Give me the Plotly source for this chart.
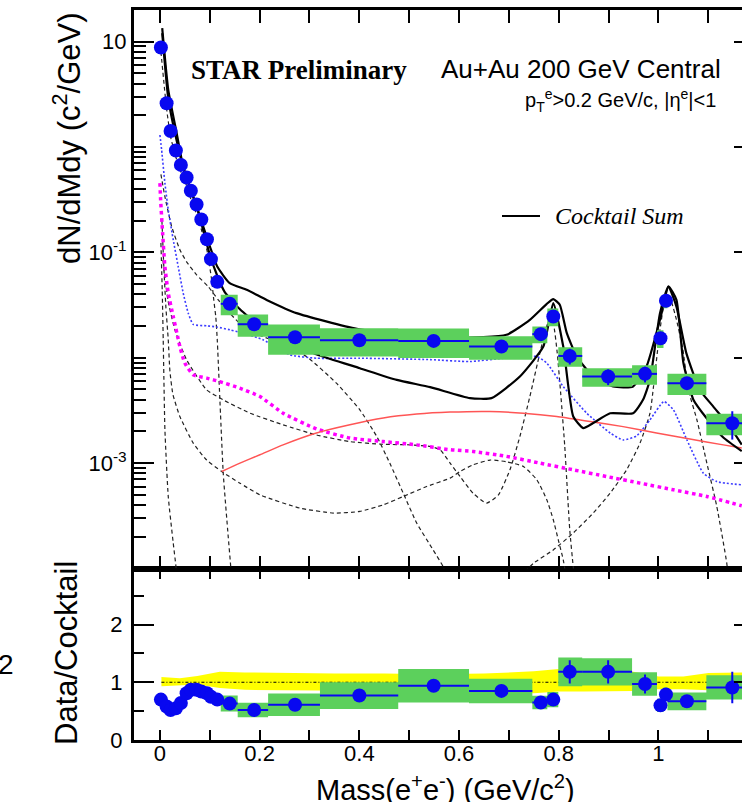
import plotly.graph_objects as go

# ---------------- data ----------------
mass = [0.002, 0.0134, 0.0214, 0.032, 0.042, 0.0535, 0.062, 0.0735, 0.083, 0.0943, 0.1023, 0.115,
        0.140, 0.189, 0.271, 0.400, 0.549, 0.685, 0.764, 0.789, 0.822, 0.899, 0.973, 1.004, 1.015, 1.057, 1.148]
dndm = [8.8, 2.6, 1.42, 0.925, 0.676, 0.513, 0.384, 0.285, 0.205, 0.133, 0.0863, 0.0525,
        0.0325, 0.0208, 0.01567, 0.01466, 0.01445, 0.01277, 0.01675, 0.0246, 0.0104, 0.00663, 0.00703,
        0.0153, 0.0347, 0.00574, 0.00239]
bin_lo = [0.0, 0.0084, 0.0164, 0.027, 0.037, 0.0485, 0.057, 0.0685, 0.078, 0.0893, 0.0973, 0.110,
          0.122, 0.156, 0.217, 0.321, 0.478, 0.620, 0.747, 0.777, 0.799, 0.847, 0.947, 0.997, 1.010, 1.018, 1.096]
bin_hi = [0.006, 0.0184, 0.0264, 0.037, 0.047, 0.0585, 0.067, 0.0785, 0.088, 0.0993, 0.1073, 0.120,
          0.156, 0.217, 0.321, 0.478, 0.620, 0.747, 0.777, 0.799, 0.847, 0.947, 0.997, 1.010, 1.018, 1.096, 1.200]
sys_frac = [0.12, 0.12, 0.12, 0.12, 0.12, 0.12, 0.12, 0.12, 0.12, 0.12, 0.12, 0.12,
            0.22, 0.24, 0.32, 0.30, 0.31, 0.25, 0.18, 0.19, 0.21, 0.20, 0.21, 0.19, 0.15, 0.23, 0.23]
stat_frac = [0.01, 0.02, 0.02, 0.02, 0.02, 0.02, 0.02, 0.03, 0.03, 0.03, 0.03, 0.04,
             0.05, 0.05, 0.05, 0.06, 0.07, 0.07, 0.06, 0.05, 0.17, 0.17, 0.17, 0.12, 0.06, 0.13, 0.30]
ratio = [0.70, 0.58, 0.52, 0.55, 0.64, 0.81, 0.87, 0.87, 0.84, 0.81, 0.75, 0.70,
         0.63, 0.52, 0.61, 0.77, 0.94, 0.85, 0.65, 0.70, 1.18, 1.18, 0.97, 0.60, 0.79, 0.67, 0.91]

# cocktail sum (two edges of the band)
ck_hi_m = [0.0046, 0.0167, 0.0335, 0.0467, 0.0736, 0.1003, 0.115, 0.140, 0.174, 0.214, 0.274, 0.395, 0.50,
           0.60, 0.695, 0.742, 0.776, 0.789, 0.802, 0.816, 0.836, 0.869, 0.909, 0.949, 0.976, 1.003, 1.020,
           1.036, 1.056, 1.083, 1.110, 1.143, 1.167]
ck_hi_v = [13.4, 3.48, 1.36, 0.652, 0.272, 0.1135, 0.0733, 0.0510, 0.0441, 0.0354, 0.0265, 0.0188, 0.0162,
           0.0154, 0.0165, 0.0229, 0.0325, 0.0360, 0.0318, 0.0172, 0.01026, 0.00663, 0.00533, 0.00533, 0.00826,
           0.0229, 0.0471, 0.0306, 0.0110, 0.00495, 0.00344, 0.00222, 0.00150]
ck_lo_m = [0.0046, 0.0167, 0.0335, 0.05, 0.075, 0.1, 0.115, 0.13, 0.16, 0.20, 0.25, 0.3176, 0.401, 0.475,
           0.542, 0.622, 0.665, 0.722, 0.769, 0.789, 0.809, 0.829, 0.849, 0.869, 0.903, 0.949, 0.969, 0.983,
           1.003, 1.020, 1.036, 1.050, 1.070, 1.097, 1.130, 1.167]
ck_lo_v = [12.0, 2.9, 1.15, 0.56, 0.26, 0.095, 0.06, 0.042, 0.029, 0.020, 0.0145, 0.01063, 0.00796, 0.00616,
           0.00526, 0.00414, 0.00414, 0.00664, 0.01277, 0.033, 0.01277, 0.00277, 0.00215, 0.0024, 0.00297,
           0.00297, 0.00399, 0.00618, 0.0265, 0.0475, 0.0354, 0.0089, 0.0040, 0.00265, 0.00175, 0.00130]

# cocktail components
pi0_m = [0.002, 0.0134, 0.0214, 0.032, 0.042, 0.0535, 0.062, 0.0735, 0.083, 0.0943, 0.1037, 0.108, 0.112,
         0.115, 0.120, 0.127, 0.137, 0.142, 0.145]
pi0_v = [8.0, 2.3, 1.25, 0.80, 0.58, 0.43, 0.32, 0.23, 0.165, 0.105, 0.055, 0.0354, 0.0246, 0.0148, 0.00428,
         0.0008, 0.0002, 0.000104, 0.00006]
eta_m = [0.002, 0.010, 0.0235, 0.040, 0.0535, 0.0736, 0.097, 0.117, 0.140, 0.174, 0.241, 0.294, 0.354, 0.401,
         0.435, 0.461, 0.488, 0.515, 0.548, 0.568, 0.575]
eta_v = [0.55, 0.338, 0.176, 0.106, 0.0813, 0.0612, 0.0473, 0.0354, 0.0265, 0.0184, 0.01377, 0.01026, 0.00574,
         0.0032, 0.00179, 0.0010, 0.000519, 0.00027, 0.00015, 0.000104, 0.00008]
c1_m = [0.002, 0.0046, 0.0066, 0.008, 0.010, 0.0167, 0.0267, 0.032, 0.035]
c1_v = [0.123, 0.044, 0.0148, 0.00617, 0.00207, 0.000482, 0.000174, 0.000106, 0.00007]
c2_m = [0.004, 0.008, 0.012, 0.0167, 0.020, 0.026, 0.040, 0.0668, 0.0937, 0.124, 0.1605, 0.2006, 0.281, 0.348,
        0.401, 0.448, 0.488, 0.535, 0.582, 0.602, 0.628, 0.662, 0.695, 0.729, 0.756, 0.776, 0.789, 0.799,
        0.809, 0.815]
c2_v = [0.2, 0.07, 0.03, 0.0148, 0.0075, 0.0045, 0.00277, 0.00155, 0.00107, 0.000832, 0.000645, 0.0005,
        0.000374, 0.000336, 0.000348, 0.000402, 0.000482, 0.0006, 0.000721, 0.000832, 0.000963, 0.00107,
        0.00103, 0.00093, 0.000695, 0.000449, 0.00029, 0.000187, 0.000121, 0.00008]
omega_m = [0.006, 0.016, 0.030, 0.0535, 0.0937, 0.127, 0.1805, 0.247, 0.314, 0.381, 0.448, 0.5015, 0.542,
           0.562, 0.582, 0.602, 0.628, 0.655, 0.679, 0.702, 0.722, 0.742, 0.762, 0.776, 0.783, 0.790, 0.797,
           0.804, 0.812, 0.822, 0.829, 0.832]
omega_v = [0.085, 0.0354, 0.0184, 0.00955, 0.00496, 0.00398, 0.00298, 0.00231, 0.00185, 0.0016, 0.00151,
           0.00149, 0.00144, 0.00134, 0.0010, 0.000746, 0.000519, 0.000417, 0.0005, 0.000863, 0.00179, 0.00428,
           0.01106, 0.0200, 0.0235, 0.0200, 0.0110, 0.0045, 0.00144, 0.000233, 0.000104, 0.00008]
phi_m = [0.732, 0.749, 0.789, 0.829, 0.869, 0.903, 0.936, 0.963, 0.983, 0.990, 1.003, 1.012, 1.019, 1.026,
         1.036, 1.049, 1.060, 1.077, 1.097, 1.117, 1.137, 1.140]
phi_v = [0.0000933, 0.000112, 0.000150, 0.000217, 0.000336, 0.000519, 0.000863, 0.00155, 0.00298, 0.00533,
         0.0184, 0.034, 0.040, 0.034, 0.0230, 0.0119, 0.00496, 0.00258, 0.0010, 0.000387, 0.000112, 0.00008]
blue_m = [0.0, 0.0034, 0.010, 0.0167, 0.0267, 0.0367, 0.0467, 0.0568, 0.0668, 0.0937, 0.1137, 0.1404, 0.167,
          0.207, 0.261, 0.314, 0.401, 0.542, 0.622, 0.689, 0.756, 0.776, 0.809, 0.856, 0.903, 0.929, 0.956,
          0.983, 1.011, 1.030, 1.057, 1.090, 1.117, 1.167]
blue_v = [1.30, 0.939, 0.454, 0.253, 0.1315, 0.0733, 0.0410, 0.0265, 0.0207, 0.0201, 0.0196, 0.0184, 0.0171,
          0.0148, 0.01065, 0.0099, 0.0099, 0.0096, 0.0092, 0.0099, 0.01026, 0.0089, 0.00533, 0.00298, 0.00193,
          0.00166, 0.00181, 0.00258, 0.00384, 0.0032, 0.00166, 0.000803, 0.000668, 0.000622]
mag_m = [0.0, 0.0014, 0.0054, 0.010, 0.0167, 0.0267, 0.034, 0.040, 0.050, 0.0668, 0.0937, 0.120, 0.160, 0.2006,
         0.247, 0.314, 0.381, 0.448, 0.515, 0.582, 0.628, 0.695, 0.762, 0.829, 0.896, 0.963, 1.030, 1.097, 1.167]
mag_v = [0.454, 0.315, 0.152, 0.0733, 0.0410, 0.0246, 0.0172, 0.01276, 0.0089, 0.00689, 0.0064, 0.00594,
         0.00515, 0.00429, 0.00298, 0.00211, 0.00173, 0.0016, 0.00149, 0.00134, 0.00129, 0.00116, 0.0010,
         0.000864, 0.000746, 0.000646, 0.000558, 0.000483, 0.000394]
ccbar_m = [0.1238, 0.1605, 0.2006, 0.247, 0.314, 0.381, 0.448, 0.515, 0.582, 0.662, 0.729, 0.796, 0.863,
           0.929, 0.996, 1.063, 1.130, 1.167]
ccbar_v = [0.000832, 0.0010, 0.0012, 0.00149, 0.00193, 0.00231, 0.00268, 0.00292, 0.00305, 0.00309, 0.00298,
           0.00277, 0.00248, 0.00222, 0.00193, 0.00169, 0.00149, 0.00139]

# cocktail uncertainty band in the ratio panel
band_m = [0.003, 0.04, 0.075, 0.12, 0.17, 0.25, 0.35, 0.45, 0.55, 0.65, 0.75, 0.80, 0.85, 0.95, 1.0, 1.05,
          1.1, 1.17]
band_hi = [1.09, 1.07, 1.11, 1.18, 1.17, 1.16, 1.15, 1.15, 1.14, 1.15, 1.19, 1.23, 1.22, 1.18, 1.10, 1.10,
           1.16, 1.17]
band_lo = [0.93, 0.94, 0.96, 0.90, 0.87, 0.86, 0.85, 0.85, 0.85, 0.84, 0.81, 0.84, 0.84, 0.85, 0.88, 0.88,
           0.86, 0.85]
unity = [1.0 for _ in band_m]

# ---------------- style ----------------
GREEN = 'rgb(92,208,92)'
BLUE = 'rgb(8,8,240)'
FONT = 'Liberation Sans, Arial, Helvetica, sans-serif'
SERIF = 'Liberation Serif, Times New Roman, serif'

fig = go.Figure()


def curve(xs, ys, color, width, dash, xa='x2', ya='y2', shape='spline'):
    fig.add_trace(go.Scatter(x=xs, y=ys, mode='lines', xaxis=xa, yaxis=ya,
                             line=dict(color=color, width=width, dash=dash, shape=shape, smoothing=0.5),
                             hoverinfo='skip', showlegend=False))


DASH = '4px,3px'
curve(c1_m, c1_v, '#222222', 1.2, DASH)
curve(c2_m, c2_v, '#222222', 1.2, DASH)
curve(pi0_m, pi0_v, '#222222', 1.2, DASH)
curve(eta_m, eta_v, '#222222', 1.2, DASH)
curve(omega_m, omega_v, '#222222', 1.2, DASH)
curve(phi_m, phi_v, '#222222', 1.2, DASH)
curve(mag_m, mag_v, '#ff00ff', 3.5, 'dot')
curve(blue_m, blue_v, 'rgb(60,60,255)', 1.6, '2px,2px')
curve(ccbar_m, ccbar_v, 'rgb(255,85,85)', 1.5, 'solid')
curve(ck_hi_m, ck_hi_v, 'black', 2.2, 'solid')
curve(ck_lo_m, ck_lo_v, 'black', 2.2, 'solid')


def boxes(vals, xa, ya):
    bx, by = [], []
    for lo, hi, v, s in zip(bin_lo, bin_hi, vals, sys_frac):
        bx += [lo, hi, hi, lo, lo, None]
        by += [v * (1 - s), v * (1 - s), v * (1 + s), v * (1 + s), v * (1 - s), None]
    fig.add_trace(go.Scatter(x=bx, y=by, mode='lines', fill='toself', fillcolor=GREEN,
                             line=dict(width=0, color=GREEN), xaxis=xa, yaxis=ya,
                             hoverinfo='skip', showlegend=False))


def points(vals, xa, ya):
    fig.add_trace(go.Scatter(
        x=mass, y=vals, mode='markers', xaxis=xa, yaxis=ya,
        marker=dict(color=BLUE, size=14, line=dict(width=0)),
        error_x=dict(type='data', symmetric=False,
                     array=[h - m for h, m in zip(bin_hi, mass)],
                     arrayminus=[m - l for l, m in zip(bin_lo, mass)],
                     color=BLUE, thickness=2, width=0),
        error_y=dict(type='data', array=[v * s for v, s in zip(vals, stat_frac)],
                     color=BLUE, thickness=2, width=0),
        hoverinfo='skip', showlegend=False))


boxes(dndm, 'x2', 'y2')
points(dndm, 'x2', 'y2')

# ratio panel
fig.add_trace(go.Scatter(x=band_m, y=band_lo, mode='lines', line=dict(width=0, color='yellow'),
                         xaxis='x', yaxis='y', hoverinfo='skip', showlegend=False))
fig.add_trace(go.Scatter(x=band_m, y=band_hi, mode='lines', fill='tonexty', fillcolor='rgb(255,255,0)',
                         line=dict(width=0, color='yellow'), xaxis='x', yaxis='y',
                         hoverinfo='skip', showlegend=False))
fig.add_trace(go.Scatter(x=band_m, y=unity, mode='lines', line=dict(width=1, color='black', dash='3px,2px,1px,2px'),
                         xaxis='x', yaxis='y', hoverinfo='skip', showlegend=False))
boxes(ratio, 'x', 'y')
points(ratio, 'x', 'y')

# invisible carriers for the right-hand tick axes
fig.add_trace(go.Scatter(x=mass[:1], y=dndm[:1], mode='markers', marker=dict(opacity=0),
                         xaxis='x2', yaxis='y3', hoverinfo='skip', showlegend=False))
fig.add_trace(go.Scatter(x=mass[:1], y=ratio[:1], mode='markers', marker=dict(opacity=0),
                         xaxis='x', yaxis='y4', hoverinfo='skip', showlegend=False))

# ---------------- layout ----------------
W, H = 742, 802
ML, MR, MT, MB = 134, 0, 10, 62
PW, PH = W - ML - MR, H - MT - MB


def px(x):
    return (x - ML) / PW


def py(y):
    return (H - MB - y) / PH


XR = [-0.052, 1.1675]
xt = [0, 0.2, 0.4, 0.6, 0.8, 1.0]
xtt = ['0', '0.2', '0.4', '0.6', '0.8', '1']
xminor = [0.1, 0.3, 0.5, 0.7, 0.9, 1.1]
dec = [10, 0.1, 0.001]
dec_all = [10, 1, 0.1, 0.01, 0.001, 0.0001]
minor_log = [k * 10.0 ** e for e in range(-4, 2) for k in range(2, 10)] + [1, 0.01, 0.0001]
split = py(568.5)

axis_common = dict(showgrid=False, zeroline=False, linecolor='black', tickcolor='black', tickwidth=1.5)

fig.update_layout(
    width=W, height=H, margin=dict(l=ML, r=MR, t=MT, b=MB),
    paper_bgcolor='white', plot_bgcolor='white', showlegend=False,
    font=dict(family=FONT, color='black', size=22),
    xaxis=dict(domain=[0, 1], anchor='y', range=XR, tickvals=xt, ticktext=xtt, ticks='inside', ticklen=10,
               minor=dict(tickvals=xminor, ticks='inside', ticklen=5, tickcolor='black', tickwidth=1.5),
               showline=True, linewidth=3, mirror='allticks', tickfont=dict(size=22),
               ticklabelstandoff=-8, **axis_common),
    xaxis2=dict(domain=[0, 1], anchor='y2', range=XR, matches='x', tickvals=xt, showticklabels=False,
                ticks='inside', ticklen=13,
                minor=dict(tickvals=xminor, ticks='inside', ticklen=7, tickcolor='black', tickwidth=1.5),
                showline=True, linewidth=3, mirror='allticks', **axis_common),
    yaxis=dict(domain=[0, split], anchor='x', range=[0, 2.97], tickvals=[0, 1, 2], ticks='inside', ticklen=20,
               minor=dict(tickvals=[0.5, 1.5, 2.5], ticks='inside', ticklen=10, tickcolor='black', tickwidth=1.5),
               showline=True, linewidth=3, tickfont=dict(size=22), ticklabelstandoff=4, **axis_common),
    yaxis2=dict(domain=[split, 1], anchor='x2', type='log', range=[-4.0, 1.30], tickvals=dec,
                ticktext=['10', '10<sup>-1</sup>', '10<sup>-3</sup>'],
                ticks='inside', ticklen=20,
                minor=dict(tickvals=minor_log, ticks='inside', ticklen=12, tickcolor='black', tickwidth=1.5),
                showline=True, linewidth=3, tickfont=dict(size=22), ticklabelstandoff=0, **axis_common),
    yaxis3=dict(overlaying='y2', side='right', anchor='x2', type='log', range=[-4.0, 1.30], tickvals=dec_all,
                ticks='inside', ticklen=8, showticklabels=False, showline=False, **axis_common),
    yaxis4=dict(overlaying='y', side='right', anchor='x', range=[0, 2.97], tickvals=[0, 1, 2],
                ticks='inside', ticklen=8, showticklabels=False, showline=False, **axis_common),
)

ann = [
    dict(text='<b>STAR Preliminary</b>', x=px(299), y=py(70), font=dict(family=SERIF, size=27)),
    dict(text='Au+Au 200 GeV Central', x=px(581), y=py(69), font=dict(size=26)),
    dict(text='p<sub>T</sub><sup>e</sup>>0.2 GeV/c, |η<sup>e</sup>|<1', x=px(718), y=py(100), xanchor='right',
         font=dict(size=20)),
    dict(text='<i>Cocktail Sum</i>', x=px(553), y=py(216), xanchor='left', font=dict(family=SERIF, size=24)),
    dict(text='dN/dMdy (c<sup>2</sup>/GeV)', x=px(67), y=py(138), textangle=-90, font=dict(size=31)),
    dict(text='Data/Cocktail', x=px(66), y=py(653), textangle=-90, font=dict(size=31)),
    dict(text='Mass(e<sup>+</sup>e<sup>-</sup>) (GeV/c<sup>2</sup>)', x=px(445), y=py(788), font=dict(size=29)),
    dict(text='2', x=px(6), y=py(664), font=dict(size=28)),
]
for a in ann:
    a.setdefault('xanchor', 'center')
    fig.add_annotation(xref='paper', yref='paper', showarrow=False, yanchor='middle', **a)

fig.add_shape(type='line', xref='paper', yref='paper', x0=px(502), x1=px(540), y0=py(216), y1=py(216),
              line=dict(color='black', width=2))

fig.write_html('out.html')
